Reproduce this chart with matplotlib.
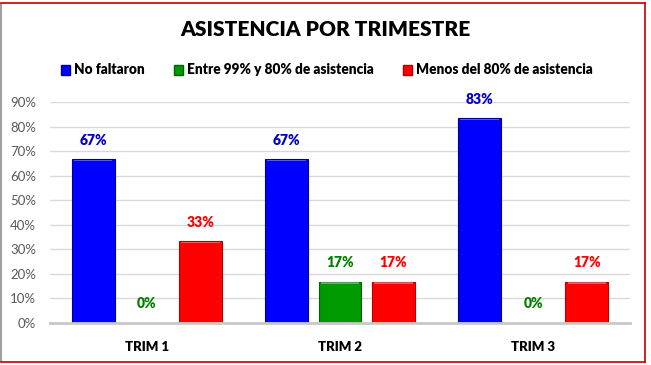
import numpy as np
import matplotlib.pyplot as plt
from matplotlib.lines import Line2D
from matplotlib.patches import Patch

plt.rcParams['font.family'] = ['Lato', 'DejaVu Sans']

# datos
trimestres = ['TRIM 1', 'TRIM 2', 'TRIM 3']
series = ['No faltaron', 'Entre 99% y 80% de asistencia', 'Menos del 80% de asistencia']
no_faltaron = [0.667, 0.667, 0.833]
entre_99_80 = [0.0, 0.167, 0.0]
menos_80 = [0.333, 0.167, 0.167]
valores = [no_faltaron, entre_99_80, menos_80]

colores = ['#0000FF', '#009900', '#FF0000']
bordes = ['#00008B', '#006400', '#B00000']
col_texto = ['#0000CC', '#008000', '#FF0000']

fig = plt.figure(figsize=(6.51, 3.65), dpi=100)
ax = fig.add_axes([50 / 651, 42 / 365, 580 / 651, 221 / 365])

x = np.arange(len(trimestres))
ancho = 0.222
offs = [-0.277, 0.0, 0.277]
for vals, off, c, b, ct in zip(valores, offs, colores, bordes, col_texto):
    ax.bar(x + off, vals, width=ancho, color=c, edgecolor=b, linewidth=0.8, zorder=3)
    # brillo superior tipo bisel
    ax.bar(x + off, [0.006 if v > 0 else 0 for v in vals], bottom=[v - 0.008 for v in vals],
           width=ancho * 0.9, color='white', alpha=0.35, linewidth=0, zorder=4)
    for xi, v in zip(x + off, vals):
        ax.annotate(f'{v * 100:.0f}%', (xi, v), xytext=(0, 9), textcoords='offset points',
                    ha='center', va='bottom', color=ct, fontsize=10, fontweight='heavy')

ax.set_xlim(-0.5, 2.5)
ax.set_ylim(0, 0.9)
ax.set_yticks(np.arange(0, 0.91, 0.1))
ax.set_yticklabels([f'{t}%' for t in range(0, 91, 10)], color='#595959', fontsize=9.5)
ax.set_xticks(x)
ax.set_xticklabels(trimestres, fontsize=9.5, fontweight='heavy', color='black')
ax.tick_params(axis='both', length=0)
ax.tick_params(axis='x', pad=13)
ax.tick_params(axis='y', pad=10)
ax.grid(axis='y', color='#D9D9D9', linewidth=1, zorder=0)
for s in ['top', 'right', 'left']:
    ax.spines[s].set_visible(False)
ax.spines['bottom'].set_color('#C8C8C8')
ax.spines['bottom'].set_linewidth(2)
ax.spines['bottom'].set_zorder(5)

fig.text(325 / 651, 1 - 30 / 365, 'ASISTENCIA POR TRIMESTRE', ha='center', va='center',
         fontsize=15, fontweight='heavy', color='black')

handles = [Patch(facecolor=c, edgecolor=b) for c, b in zip(colores, bordes)]
fig.legend(handles, series, loc='center', bbox_to_anchor=(327 / 651, 1 - 70 / 365), ncol=3,
           frameon=False, handlelength=0.7, handleheight=0.7, handletextpad=0.3,
           columnspacing=2.1, prop={'weight': 'heavy', 'size': 9.8})

# marco del gráfico
fig.add_artist(Line2D([1 / 651, 1 / 651], [0.01, 0.99], transform=fig.transFigure, color='#A0A0A0', lw=1.5))
fig.add_artist(Line2D([1 / 651, 645 / 651], [1 - 3 / 365, 1 - 3 / 365], transform=fig.transFigure, color='#C00000', lw=1.2))
fig.add_artist(Line2D([645 / 651, 645 / 651], [1 - 3 / 365, 1 - 362 / 365], transform=fig.transFigure, color='#C00000', lw=1.2))
fig.add_artist(Line2D([1 / 651, 645 / 651], [1 - 362 / 365, 1 - 362 / 365], transform=fig.transFigure, color='#C00000', lw=1.2))

fig.savefig('out.png', dpi=100)
